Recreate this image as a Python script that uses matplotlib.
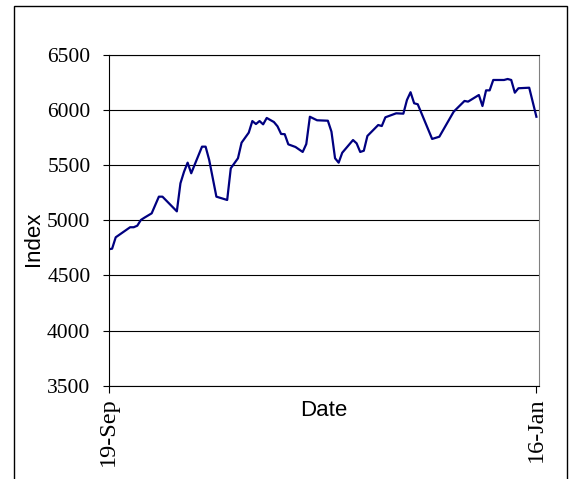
"""Index line chart, 19-Sep to 16-Jan."""

import pandas as pd
import matplotlib
matplotlib.use("Agg")
import matplotlib.pyplot as plt
import matplotlib.dates as mdates
from matplotlib.patches import Rectangle

OUT_FILE = "out.png"

dates = [
    "2006-09-19", "2006-09-20", "2006-09-21", "2006-09-25", "2006-09-26",
    "2006-09-27", "2006-09-28", "2006-09-29", "2006-10-01", "2006-10-03",
    "2006-10-04", "2006-10-08", "2006-10-09", "2006-10-10", "2006-10-11",
    "2006-10-12", "2006-10-13", "2006-10-15", "2006-10-16", "2006-10-17",
    "2006-10-19", "2006-10-22", "2006-10-23", "2006-10-25", "2006-10-26",
    "2006-10-28", "2006-10-29", "2006-10-30", "2006-10-31", "2006-11-01",
    "2006-11-02", "2006-11-04", "2006-11-05", "2006-11-06", "2006-11-07",
    "2006-11-08", "2006-11-10", "2006-11-12", "2006-11-13", "2006-11-14",
    "2006-11-16", "2006-11-19", "2006-11-20", "2006-11-21", "2006-11-22",
    "2006-11-23", "2006-11-26", "2006-11-27", "2006-11-28", "2006-11-29",
    "2006-11-30", "2006-12-03", "2006-12-04", "2006-12-05", "2006-12-08",
    "2006-12-10", "2006-12-11", "2006-12-12", "2006-12-13", "2006-12-14",
    "2006-12-18", "2006-12-20", "2006-12-24", "2006-12-27", "2006-12-28",
    "2006-12-31", "2007-01-01", "2007-01-02", "2007-01-03", "2007-01-04",
    "2007-01-07", "2007-01-08", "2007-01-09", "2007-01-10", "2007-01-11",
    "2007-01-14", "2007-01-16",
]

index_values = [
    4737, 4743, 4846, 4937, 4937, 4951, 5003, 5024, 5063, 5214,
    5214, 5081, 5335, 5440, 5522, 5426, 5507, 5667, 5667, 5546,
    5214, 5184, 5471, 5562, 5703, 5794, 5899, 5872, 5899, 5869,
    5927, 5890, 5851, 5782, 5780, 5688, 5664, 5619, 5691, 5938,
    5906, 5902, 5803, 5562, 5522, 5612, 5727, 5697, 5619, 5630,
    5764, 5863, 5854, 5933, 5969, 5966, 6090, 6160, 6060, 6051,
    5737, 5757, 5984, 6081, 6075, 6135, 6035, 6177, 6177, 6271,
    6271, 6280, 6271, 6156, 6196, 6201, 5938,
]

x_tick_dates = ["2006-09-19", "2007-01-16"]
x_tick_labels = ["19-Sep", "16-Jan"]
y_ticks = [3500, 4000, 4500, 5000, 5500, 6000, 6500]


def main() -> None:
    data = pd.DataFrame({"date": pd.to_datetime(dates), "index": index_values})

    fig = plt.figure(figsize=(5.7, 4.79), dpi=100)
    ax = fig.add_axes([0.1904, 0.1944, 0.9461 - 0.1904, 0.8858 - 0.1944])

    # outer chart border (bottom edge is cut off in the original)
    fig.patches.append(Rectangle((14 / 570, -0.05), (567 - 14) / 570,
                                 1 - 6 / 479 + 0.05, transform=fig.transFigure,
                                 fill=False, edgecolor="black", linewidth=1.0))

    ax.plot(data["date"], data["index"], color="#000080", linewidth=1.6)

    start = mdates.date2num(pd.Timestamp(x_tick_dates[0]))
    ax.set_xlim(start, start + 119.8)
    ax.set_ylim(3500, 6500)

    ax.set_yticks(y_ticks)
    ax.set_xticks(pd.to_datetime(x_tick_dates))
    ax.set_xticklabels(x_tick_labels, rotation=90,
                       fontfamily="Liberation Serif", fontsize=17.5)
    for lbl in ax.get_yticklabels():
        lbl.set_fontfamily("Liberation Serif")
        lbl.set_fontsize(15.5)

    ax.tick_params(axis="y", direction="out", length=4.5, width=0.8, pad=8.5)
    ax.tick_params(axis="x", direction="out", length=5, width=0.8, pad=3)

    ax.yaxis.grid(True, color="black", linewidth=0.8)
    ax.set_axisbelow(True)

    for side in ["left", "bottom", "top"]:
        ax.spines[side].set_color("black")
        ax.spines[side].set_linewidth(0.8)
    ax.spines["right"].set_color("#808080")
    ax.spines["right"].set_linewidth(0.8)

    ax.set_xlabel("Date", fontfamily="Liberation Sans", fontsize=16, va="center")
    ax.xaxis.set_label_coords(0.5, -0.073)
    ax.set_ylabel("Index", fontfamily="Liberation Sans", fontsize=16, va="center")
    ax.yaxis.set_label_coords(-0.1735, 0.445)

    fig.savefig(OUT_FILE, dpi=100)


if __name__ == "__main__":
    main()
